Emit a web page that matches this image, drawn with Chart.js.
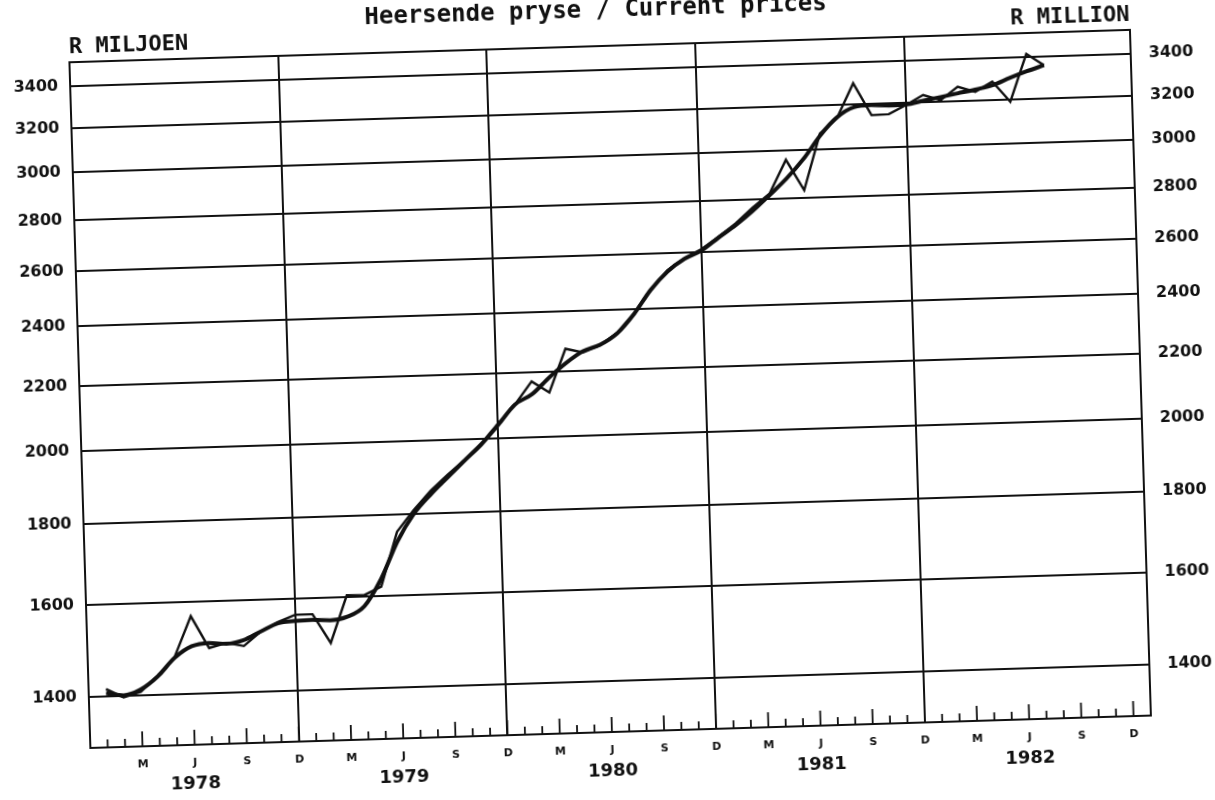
<!DOCTYPE html>
<html>
<head>
<meta charset="utf-8">
<script src="https://cdn.jsdelivr.net/npm/chart.js@4.4.1/dist/chart.umd.min.js"></script>
<style>
html, body { margin: 0; padding: 0; background: #ffffff; overflow: hidden; width: 1215px; height: 800px; }
#wrap { position: absolute; left: 0; top: 0; width: 1215px; height: 800px; transform: rotate(-1.75deg); transform-origin: 50% 50%; background: #ffffff; }
canvas { display: block; }
</style>
</head>
<body>
<div id="wrap"><canvas id="chart" width="1215" height="800"></canvas></div>
<script>
// ---- Data ----
const titleText = 'Heersende pryse / Current prices';
const leftUnit = 'R MILJOEN';
const rightUnit = 'R MILLION';

const months = [
  '1978-01','1978-02','1978-03','1978-04','1978-05','1978-06','1978-07','1978-08','1978-09','1978-10','1978-11','1978-12',
  '1979-01','1979-02','1979-03','1979-04','1979-05','1979-06','1979-07','1979-08','1979-09','1979-10','1979-11','1979-12',
  '1980-01','1980-02','1980-03','1980-04','1980-05','1980-06','1980-07','1980-08','1980-09','1980-10','1980-11','1980-12',
  '1981-01','1981-02','1981-03','1981-04','1981-05','1981-06','1981-07','1981-08','1981-09','1981-10','1981-11','1981-12',
  '1982-01','1982-02','1982-03','1982-04','1982-05','1982-06','1982-07','1982-08'
];

// monthly values, current prices (R million)
const monthlyValues = [
  1415, 1397, 1407, 1440, 1478, 1567, 1495, 1505, 1497, 1528, 1548, 1563,
  1563, 1498, 1604, 1603, 1622, 1755, 1810, 1860, 1902, 1942, 1988, 2045,
  2100, 2170, 2134, 2272, 2258, 2280, 2320, 2385, 2465, 2535, 2578, 2610,
  2655, 2705, 2765, 2820, 2960, 2830, 3070, 3136, 3298, 3146, 3148, 3188,
  3232, 3206, 3266, 3240, 3285, 3188, 3415, 3357
];

// smoothed trend
const trendValues = [
  1407, 1401, 1412, 1438, 1476, 1500, 1506, 1503, 1510, 1528, 1545, 1549,
  1550, 1548, 1555, 1578, 1640, 1730, 1800, 1850, 1895, 1940, 1985, 2040,
  2100, 2130, 2180, 2225, 2262, 2282, 2318, 2382, 2465, 2530, 2575, 2605,
  2652, 2698, 2752, 2814, 2880, 2960, 3060, 3140, 3185, 3192, 3188, 3190,
  3205, 3220, 3235, 3250, 3268, 3300, 3330, 3357
];

const yTickValues = [1400, 1600, 1800, 2000, 2200, 2400, 2600, 2800, 3000, 3200, 3400];
const quarterLetters = ['D', 'M', 'J', 'S'];      // Dec, Mar, Jun, Sep
const yearLabels = ['1978', '1979', '1980', '1981', '1982'];

// ---- helpers ----
function monthPos(s) {             // months since Dec 1977
  const [y, m] = s.split('-').map(Number);
  return (y - 1977) * 12 + m - 12;
}
const monthlyPoints = months.map((s, i) => ({ x: monthPos(s), y: monthlyValues[i] }));
const trendPoints = months.map((s, i) => ({ x: monthPos(s), y: trendValues[i] }));

const INK = '#111111';
const X_MIN = 0, X_MAX = 61;

const decorations = {
  id: 'decorations',
  beforeDraw(chart) {
    const ctx = chart.ctx;
    ctx.save();
    ctx.fillStyle = '#ffffff';
    ctx.fillRect(0, 0, chart.width, chart.height);
    ctx.restore();
  },
  beforeDatasetsDraw(chart) {
    const ctx = chart.ctx, a = chart.chartArea, xs = chart.scales.x;
    ctx.save();
    ctx.strokeStyle = INK;
    ctx.lineWidth = 2;
    // top frame line
    ctx.beginPath();
    ctx.moveTo(a.left, a.top);
    ctx.lineTo(a.right, a.top);
    ctx.stroke();
    // monthly tick marks rising from the time axis
    ctx.lineWidth = 1.8;
    for (let m = 1; m <= 60; m++) {
      const px = xs.getPixelForValue(m);
      const len = (m % 3 === 0) ? 15 : 8;
      ctx.beginPath();
      ctx.moveTo(px, a.bottom);
      ctx.lineTo(px, a.bottom - len);
      ctx.stroke();
    }
    ctx.restore();
  },
  afterDraw(chart) {
    const ctx = chart.ctx, a = chart.chartArea;
    ctx.save();
    ctx.fillStyle = INK;
    ctx.textBaseline = 'middle';
    ctx.font = 'bold 24px "DejaVu Sans Mono"';
    ctx.textAlign = 'center';
    ctx.fillText(titleText, chart.width / 2, 11);
    ctx.font = 'bold 22px "DejaVu Sans Mono"';
    ctx.textAlign = 'left';
    ctx.fillText(leftUnit, a.left, 31);
    ctx.textAlign = 'right';
    ctx.fillText(rightUnit, a.right, 31);
    ctx.restore();
  }
};

const yTickFont = { family: 'DejaVu Sans', weight: 'bold', size: 16 };

new Chart(document.getElementById('chart'), {
  type: 'line',
  data: {
    datasets: [
      {
        label: 'Monthly',
        data: monthlyPoints,
        borderColor: INK,
        borderWidth: 2.4,
        pointRadius: 0,
        tension: 0,
        fill: false,
        xAxisID: 'x',
        yAxisID: 'y'
      },
      {
        label: 'Trend',
        data: trendPoints,
        borderColor: INK,
        borderWidth: 4,
        pointRadius: 0,
        tension: 0.4,
        cubicInterpolationMode: 'monotone',
        fill: false,
        xAxisID: 'x',
        yAxisID: 'y'
      }
    ]
  },
  options: {
    responsive: false,
    animation: false,
    devicePixelRatio: 1,
    layout: { padding: { top: 46, left: 0, right: 0, bottom: 0 } },
    plugins: {
      legend: { display: false },
      title: { display: false },
      tooltip: { enabled: false }
    },
    scales: {
      x: {
        type: 'linear',
        position: 'bottom',
        weight: 0,
        min: X_MIN,
        max: X_MAX,
        afterBuildTicks(scale) {
          const t = [];
          for (let m = X_MIN; m <= X_MAX; m++) t.push({ value: m });
          scale.ticks = t;
        },
        afterFit(scale) { scale.height = 24; },
        ticks: {
          autoSkip: false,
          maxRotation: 0,
          minRotation: 0,
          padding: 12,
          color: INK,
          font: { family: 'DejaVu Sans', weight: 'bold', size: 11 },
          callback(v) {
            if (v <= 0 || v > 60 || v % 3 !== 0) return '';
            return quarterLetters[(v % 12) / 3];
          }
        },
        grid: {
          drawTicks: false,
          lineWidth: 2,
          color(ctx) {
            const v = ctx.tick ? ctx.tick.value : -1;
            return (v > 0 && v < 60 && v % 12 === 0) ? INK : 'rgba(0,0,0,0)';
          }
        },
        border: { display: true, color: INK, width: 2 }
      },
      xYear: {
        type: 'linear',
        position: 'bottom',
        weight: 1,
        min: X_MIN,
        max: X_MAX,
        afterBuildTicks(scale) {
          scale.ticks = yearLabels.map((_, i) => ({ value: 6 + 12 * i }));
        },
        afterFit(scale) { scale.height = 44; },
        ticks: {
          autoSkip: false,
          maxRotation: 0,
          minRotation: 0,
          padding: 5,
          color: INK,
          font: { family: 'DejaVu Sans', weight: 'bold', size: 18 },
          callback(v, i) { return yearLabels[i]; }
        },
        grid: { display: false, drawTicks: false },
        border: { display: false }
      },
      y: {
        type: 'logarithmic',
        position: 'left',
        min: 1300,
        max: 3520,
        afterBuildTicks(scale) { scale.ticks = yTickValues.map(v => ({ value: v })); },
        afterFit(scale) { scale.width = 80; },
        ticks: {
          padding: 12,
          color: INK,
          font: yTickFont,
          callback(v) { return String(v); }
        },
        grid: { drawTicks: false, color: INK, lineWidth: 2 },
        border: { display: true, color: INK, width: 2 }
      },
      y2: {
        type: 'logarithmic',
        position: 'right',
        min: 1300,
        max: 3520,
        afterBuildTicks(scale) { scale.ticks = yTickValues.map(v => ({ value: v })); },
        afterFit(scale) { scale.width = 74; },
        ticks: {
          padding: 18,
          color: INK,
          font: yTickFont,
          callback(v) { return String(v); }
        },
        grid: { drawOnChartArea: false, drawTicks: false },
        border: { display: true, color: INK, width: 2 }
      }
    }
  },
  plugins: [decorations]
});
</script>
</body>
</html>
